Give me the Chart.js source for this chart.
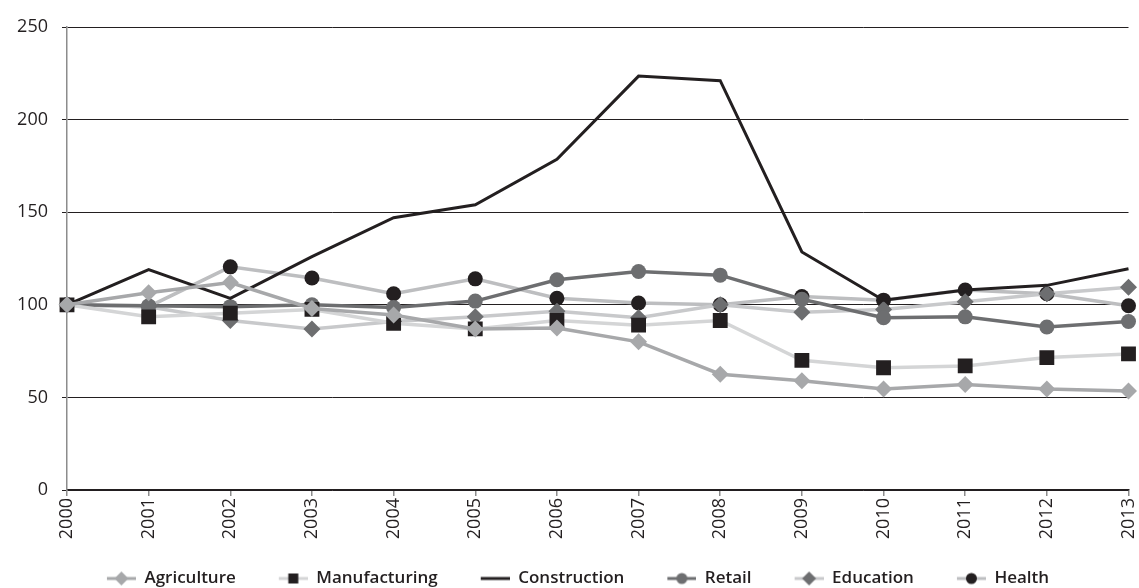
<!DOCTYPE html>
<html><head><meta charset="utf-8">
<script src="https://cdn.jsdelivr.net/npm/chart.js@4.4.1/dist/chart.umd.min.js"></script>
<style>html,body{margin:0;padding:0;background:#fff}#wrap{width:1139px;height:588px}</style>
</head><body><div id="wrap"><canvas id="c" width="1139" height="588"></canvas></div>
<script>
const years = ['2000','2001','2002','2003','2004','2005','2006','2007','2008','2009','2010','2011','2012','2013'];
const agriculture   = [100, 106.5, 112, 98, 94.5, 87, 87.5, 80, 62.5, 59, 54.5, 57, 54.5, 53.5];
const manufacturing = [100, 93.5, 95.5, 97.5, 90, 87, 91.5, 89, 91.5, 70, 66, 67, 71.5, 73.5];
const construction  = [100, 119, 103.5, 126, 147, 154, 178.5, 223.5, 221, 128.5, 102.5, 108, 110.5, 119.5];
const retail        = [100, 99.5, 99, 100, 98.5, 102, 113.5, 118, 116, 103, 93, 93.5, 88, 91];
const education     = [100, 99, 91.5, 87, 91, 93.5, 96.5, 93, 100, 96, 97.5, 101.7, 106, 109.5];
const health        = [100, 99, 120.5, 114.5, 106, 114, 103.5, 101, 100, 104.5, 102.5, 108, 106, 99.5];
const seriesNames = ['Agriculture','Manufacturing','Construction','Retail','Education','Health'];
const yMin = 0, yMax = 250, yStep = 50;

const INK = '#231f20';
const styles = [
  {line:'#a7a8aa', mark:'#a7a8aa', ps:'rectRot', r:8.5},
  {line:'#d4d5d6', mark:INK, ps:'rect', r:10.5},
  {line:INK, mark:INK, ps:false, r:0},
  {line:'#6d6e70', mark:'#6d6e70', ps:'circle', r:7.5},
  {line:'#c8c9cb', mark:'#6d6e70', ps:'rectRot', r:8.5},
  {line:'#bdbec0', mark:INK, ps:'circle', r:7.5}
];
const values = [agriculture, manufacturing, construction, retail, education, health];

const ICON_MARGIN = 22, ICON_LINE = 29;
function legendIcon(st){
  const cv = document.createElement('canvas');
  cv.width = ICON_MARGIN + ICON_LINE; cv.height = 18;
  const g = cv.getContext('2d');
  const x0 = ICON_MARGIN, cx = x0 + ICON_LINE/2;
  g.strokeStyle = st.line; g.lineWidth = 3;
  g.beginPath(); g.moveTo(x0, 9); g.lineTo(x0 + ICON_LINE, 9); g.stroke();
  g.fillStyle = st.mark;
  if (st.ps === 'rectRot') { g.beginPath(); g.moveTo(cx,2); g.lineTo(cx+7,9); g.lineTo(cx,16); g.lineTo(cx-7,9); g.closePath(); g.fill(); }
  else if (st.ps === 'rect') { g.fillRect(cx-5,4,10,10); }
  else if (st.ps === 'circle') { g.beginPath(); g.arc(cx,9,5.5,0,Math.PI*2); g.fill(); }
  return cv;
}
const icons = styles.map(legendIcon);

const datasets = values.map((v,i)=>({
  label: seriesNames[i],
  data: v,
  borderColor: styles[i].line,
  backgroundColor: styles[i].mark,
  borderWidth: i===2 ? 3 : 3.5,
  pointStyle: styles[i].ps || 'circle',
  pointRadius: styles[i].r,
  pointBackgroundColor: styles[i].mark,
  pointBorderColor: styles[i].mark,
  pointBorderWidth: 0,
  tension: 0,
  fill: false
}));

const legendFit = {id:'legendFit', afterInit(chart){
  const lg = chart.legend; const f = lg.fit;
  lg.fit = function(){ f.call(this); if (this.isHorizontal()) this.height = 39; };
}};

const FONT = "'Open Sans', 'Noto Sans', sans-serif";
new Chart(document.getElementById('c'), {
  type: 'line',
  data: { labels: years, datasets },
  plugins: [legendFit],
  options: {
    responsive: false, animation: false, devicePixelRatio: 1,
    layout: { padding: { top: 27, right: 5, bottom: 0, left: 0 } },
    plugins: {
      tooltip: { enabled: false },
      legend: {
        position: 'bottom',
        labels: {
          usePointStyle: true, pointStyleWidth: ICON_MARGIN + ICON_LINE, padding: 21,
          color: INK, font: { family: FONT, size: 17, weight: '600' },
          generateLabels(chart){
            return chart.data.datasets.map((d,i)=>({
              text: d.label, pointStyle: icons[i], fillStyle: 'transparent', strokeStyle: 'transparent',
              lineWidth: 0, hidden: false, datasetIndex: i, fontColor: INK
            }));
          }
        }
      }
    },
    scales: {
      x: {
        offset: false,
        grid: { drawOnChartArea: false, drawTicks: true, tickLength: 6, color: '#8c8c8c', lineWidth: 1.5 },
        border: { color: INK, width: 1.2 },
        ticks: { minRotation: 90, maxRotation: 90, autoSkip: false, padding: 2, color: INK, font: { family: FONT, size: 18 } },
        afterFit(s){ s.height = 59; s.paddingLeft = 0; s.paddingRight = 0; }
      },
      y: {
        min: yMin, max: yMax,
        grid: { color: INK, lineWidth: 1, tickLength: 5, drawTicks: true },
        border: { color: '#8c8c8c', width: 1.5 },
        ticks: { stepSize: yStep, padding: 14, color: INK, font: { family: FONT, size: 18 } },
        afterFit(s){ s.width = 67; s.paddingTop = 0; s.paddingBottom = 0; }
      }
    }
  }
});
</script></body></html>
